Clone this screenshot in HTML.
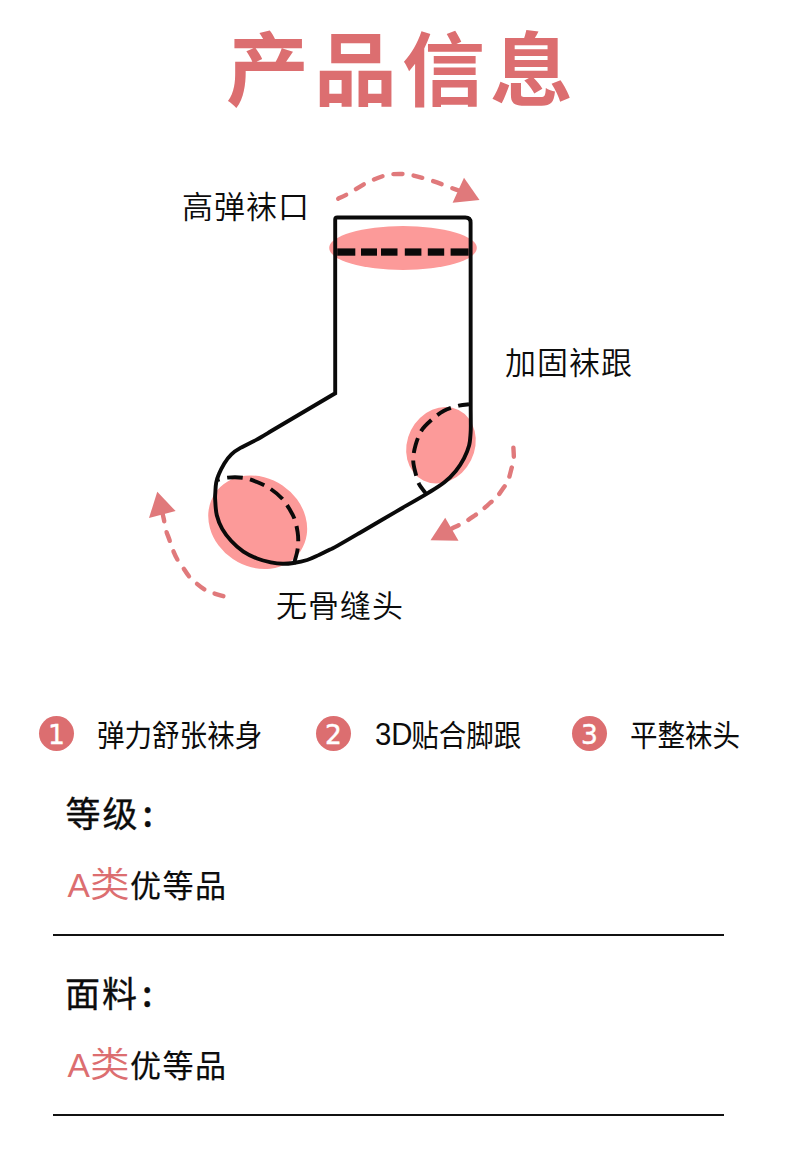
<!DOCTYPE html>
<html lang="zh-CN">
<head>
<meta charset="utf-8">
<title>产品信息</title>
<style>
  html, body { margin: 0; padding: 0; background: #fff; }
  body { width: 790px; height: 1151px; position: relative; overflow: hidden;
         font-family: "Liberation Sans", "Noto Sans CJK SC", sans-serif; color: #0c0c0c; }
  .abs { position: absolute; white-space: nowrap; line-height: 1; margin: 0; }
  .title { left: 226px; top: 31px; font-size: 83px; font-weight: 700;
           color: #dc6e70; letter-spacing: 5px; transform: scaleY(0.965); transform-origin: left top; }
  .lbl { font-size: 31px; font-weight: 350; letter-spacing: 1px; }
  .feat { font-size: 30px; font-weight: 400; transform: scaleX(0.918); transform-origin: left top; }
  .feat .en { font-size: 32px; line-height: 0; position: relative; top: -1.5px; margin-right: -1.5px; }
  .num { width: 35px; height: 35px; border-radius: 50%; background: #dc6e70; color: #fff;
         font-size: 26.5px; text-align: center; line-height: 37px; font-weight: 400; -webkit-text-stroke: 0.45px #fff; font-family: "DejaVu Sans", "Liberation Sans", sans-serif; }
  .h { font-size: 35px; font-weight: 400; letter-spacing: 2px; -webkit-text-stroke: 0.35px #0c0c0c; }
  .h i { font-style: normal; font-family: "Noto Sans CJK SC", sans-serif; font-weight: 500; font-size: 35px; letter-spacing: 0; margin-left: 3px; line-height: 0; }
  .v { font-size: 31px; font-weight: 400; letter-spacing: 1.5px; -webkit-text-stroke: 0.2px #0c0c0c; }
  .v .a { color: #dc6e70; font-family: "Liberation Sans", sans-serif; font-weight: 400; font-size: 33.5px; letter-spacing: 0; -webkit-text-stroke: 0; }
  .v .p { color: #dc6e70; font-weight: 350; -webkit-text-stroke: 0; font-size: 35px; letter-spacing: 0; display: inline-block; transform: scaleX(1.135); transform-origin: left bottom; margin-right: 5.2px; }
  .rule { position: absolute; left: 53px; width: 671px; height: 2px; background: #111; }
  svg { position: absolute; left: 0; top: 0; }
</style>
</head>
<body>
  <h1 class="abs title">产品信息</h1>

  <svg width="790" height="680" viewBox="0 0 790 680">
    <!-- pink zones -->
    <ellipse cx="403" cy="248" rx="73.8" ry="21.9" fill="#fc9a99"/>
    <ellipse cx="440.95" cy="445.3" rx="33.6" ry="39.4" transform="rotate(26.6 440.95 445.3)" fill="#fc9a99"/>
    <ellipse cx="257.7" cy="522.3" rx="51.6" ry="44.4" transform="rotate(34 257.7 522.3)" fill="#fc9a99"/>
    <!-- sock outline -->
    <path d="M335.2 393.3 L335.2 219.5 Q335.2 217.5 337.2 217.5 L465.3 217.5 Q470.6 217.5 470.6 222.7 L470.7 410.0 C470.7 412.2 470.8 419.2 470.8 423.0 C470.8 426.8 470.9 429.2 470.6 433.0 C470.3 436.8 470.2 441.4 469.1 445.6 C468.0 449.8 466.2 454.1 464.0 458.3 C461.8 462.5 459.1 466.9 455.8 470.9 C452.5 474.9 449.0 478.6 444.4 482.3 C439.8 486.0 435.1 488.7 427.9 493.1 C420.7 497.5 409.0 504.1 401.0 508.7 C393.0 513.4 383.5 519.0 380.0 521.0 L360.0 532.7 C356.4 534.8 343.1 542.6 338.1 545.4 C333.1 548.2 333.1 548.0 330.0 549.6 C326.9 551.2 323.2 553.0 319.4 554.7 C315.6 556.4 311.5 558.6 307.2 560.0 C302.9 561.4 297.6 562.4 293.5 563.0 C289.4 563.6 286.7 563.9 282.9 563.8 C279.1 563.7 275.1 563.2 270.8 562.3 C266.5 561.4 261.7 560.3 257.1 558.5 C252.5 556.7 247.7 554.5 243.4 551.6 C239.1 548.7 234.8 544.8 231.3 541.0 C227.8 537.2 224.6 533.2 222.2 528.9 C219.8 524.6 218.0 520.0 216.8 515.2 C215.6 510.4 215.4 503.7 215.2 500.0 C214.9 496.3 215.1 495.7 215.3 492.8 C215.5 489.9 215.6 485.7 216.2 482.7 C216.8 479.7 217.3 477.8 218.7 474.6 C220.0 471.4 222.2 466.8 224.3 463.4 C226.4 460.0 228.7 456.9 231.4 454.3 C234.1 451.7 236.3 450.3 240.5 447.9 C244.7 445.4 251.8 442.3 256.7 439.6 C261.6 436.9 267.8 433.1 270.0 431.8 Z" fill="none" stroke="#0a0a0a" stroke-width="3.9" stroke-linejoin="miter"/>
    <!-- cuff dashes -->
    <g fill="#0a0a0a">
      <rect x="337.2" y="248.4" width="18.1" height="7.3"/>
      <rect x="361" y="248.4" width="16" height="7.3"/>
      <rect x="381" y="248.4" width="16.5" height="7.3"/>
      <rect x="404.8" y="248.4" width="16.6" height="7.3"/>
      <rect x="427.8" y="248.4" width="16.4" height="7.3"/>
      <rect x="450.6" y="248.4" width="18" height="7.3"/>
    </g>
    <!-- heel / toe dashed arcs -->
    <path d="M469.0 404.3 C467.3 404.5 463.1 404.5 458.9 405.6 C454.7 406.7 448.6 408.4 444.0 410.8 C439.4 413.2 434.8 417.0 431.1 420.3 C427.4 423.6 424.2 426.3 421.6 430.4 C419.0 434.5 417.0 440.1 415.6 445.0 C414.2 449.9 413.2 455.3 413.2 460.0 C413.2 464.7 414.5 469.0 415.5 473.0 C416.5 477.0 417.4 480.8 419.1 484.2 C420.9 487.6 424.9 492.1 426.0 493.7" stroke="#0a0a0a" stroke-width="3.9" stroke-dasharray="15.5 7.5" stroke-dashoffset="4.5" fill="none"/>
    <path d="M218.0 480.0 C219.6 479.6 223.3 478.0 227.6 477.6 C231.8 477.2 238.6 477.1 243.5 477.8 C248.4 478.5 252.6 480.2 257.0 482.0 C261.4 483.8 265.8 485.7 270.0 488.5 C274.2 491.3 279.0 495.1 282.3 498.7 C285.6 502.3 287.9 506.5 290.0 510.0 C292.1 513.5 293.5 516.0 294.8 519.7 C296.1 523.4 297.0 528.3 297.6 532.0 C298.2 535.7 298.3 538.7 298.2 542.0 C298.1 545.3 297.9 548.3 297.1 552.0 C296.4 555.7 294.3 562.3 293.7 564.4" stroke="#0a0a0a" stroke-width="3.9" stroke-dasharray="15.5 7.5" stroke-dashoffset="-9.5" fill="none"/>
    <!-- arrows -->
    <g stroke="#e0797b" stroke-width="4.4" stroke-linecap="round" stroke-dasharray="9 11.3" fill="none">
      <path d="M338.2 198.7 C340.1 197.8 344.9 195.7 349.6 193.0 C354.4 190.3 360.8 185.7 366.7 182.8 C372.6 179.9 379.5 177.0 385.0 175.5 C390.5 174.0 395.0 174.0 399.7 174.0 C404.4 174.0 407.9 174.3 413.4 175.5 C418.9 176.7 426.5 178.9 432.8 181.0 C439.1 183.1 446.5 186.1 451.0 187.8 C455.5 189.5 458.5 190.5 460.0 191.0"/>
      <path d="M513.4 447.7 C513.5 449.9 514.1 457.6 513.8 461.0 C513.5 464.4 512.5 464.9 511.6 468.1 C510.7 471.4 509.4 477.2 508.1 480.5 C506.8 483.8 505.6 484.8 503.7 487.6 C501.8 490.4 498.8 494.8 496.6 497.3 C494.4 499.8 492.9 500.5 490.4 502.7 C487.9 504.9 484.0 508.5 481.5 510.6 C479.0 512.7 478.1 513.2 475.3 515.1 C472.5 517.0 468.6 519.9 464.7 522.1 C460.8 524.3 454.1 527.4 452.0 528.5"/>
      <path d="M223.4 596.2 C221.5 595.6 215.2 593.8 212.0 592.7 C208.8 591.6 207.3 591.2 204.4 589.4 C201.5 587.6 197.2 584.1 194.6 581.8 C191.9 579.5 190.5 578.2 188.5 575.7 C186.5 573.2 184.3 569.4 182.4 566.6 C180.5 563.8 178.8 561.9 177.1 559.0 C175.4 556.1 173.8 552.3 172.5 549.1 C171.2 545.9 170.6 543.3 169.5 540.0 C168.4 536.7 166.6 532.6 165.7 529.4 C164.8 526.2 164.7 523.6 164.2 521.0 C163.7 518.4 162.9 515.2 162.7 514.0"/>
    </g>
    <g fill="#e0797b">
      <path d="M464 177.8 L479.5 199.9 L452.6 202.8 Z"/>
      <path d="M445.2 517.7 L458.5 540.8 L430.5 540.2 Z"/>
      <path d="M157.3 491.8 L175.6 511.1 L149 518 Z"/>
    </g>
  </svg>

  <div class="abs lbl" style="left:182px; top:191.5px;">高弹袜口</div>
  <div class="abs lbl" style="left:505px; top:347.5px;">加固袜跟</div>
  <div class="abs lbl" style="left:276px; top:591px;">无骨缝头</div>

  <div class="abs num" style="left:39px; top:716px;">1</div>
  <div class="abs feat" style="left:97px; top:721px;">弹力舒张袜身</div>
  <div class="abs num" style="left:316px; top:716px;">2</div>
  <div class="abs feat" style="left:375px; top:721px;"><span class="en">3D</span>贴合脚跟</div>
  <div class="abs num" style="left:572px; top:716px;">3</div>
  <div class="abs feat" style="left:629.5px; top:721px;">平整袜头</div>

  <div class="abs h" style="left:65.5px; top:796.5px;">等级<i>:</i></div>
  <div class="abs v" style="left:67.5px; top:867px;"><span class="a">A</span><span class="p">类</span>优等品</div>
  <div class="rule" style="top:934px;"></div>

  <div class="abs h" style="left:65px; top:977px;">面料<i>:</i></div>
  <div class="abs v" style="left:67.5px; top:1047px;"><span class="a">A</span><span class="p">类</span>优等品</div>
  <div class="rule" style="top:1114px;"></div>
</body>
</html>
